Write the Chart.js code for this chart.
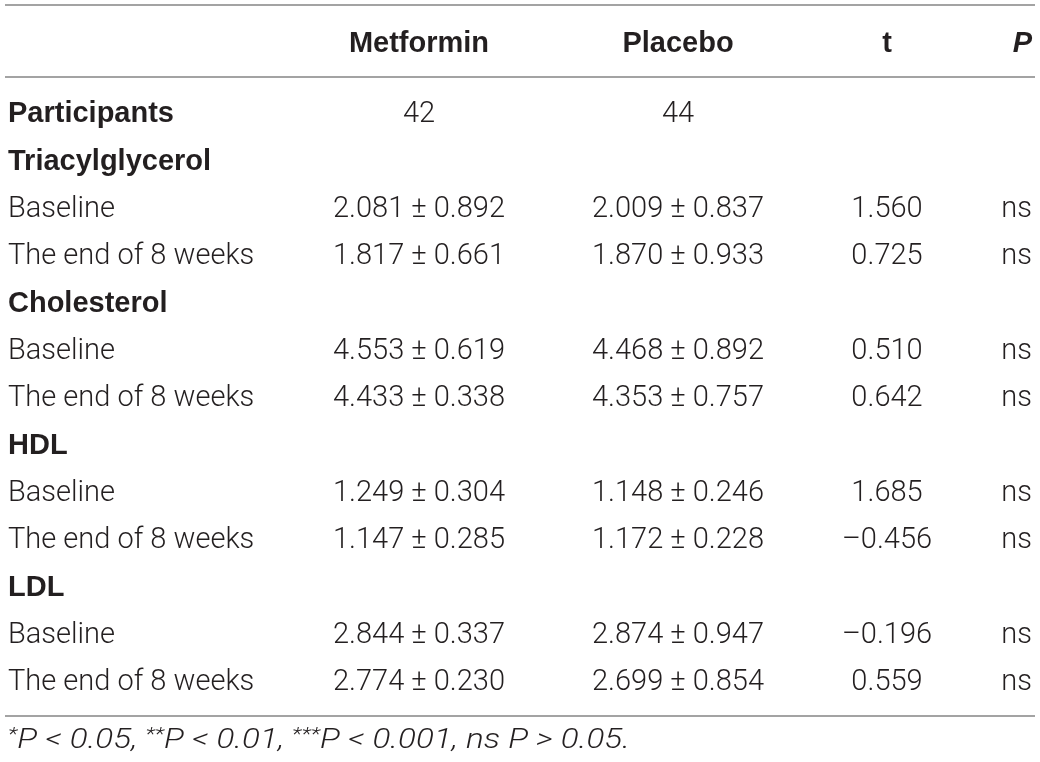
<!DOCTYPE html>
<html><head><meta charset="utf-8">
<script src="https://cdn.jsdelivr.net/npm/chart.js@4.4.1/dist/chart.umd.min.js"></script>
<style>html,body{margin:0;padding:0;background:#fff}#wrap{width:1040px;height:762px;position:relative}</style>
</head><body><div id="wrap"><canvas id="c" width="1040" height="762"></canvas></div>
<script>
// ---------- data ----------
const columns = ['Metformin', 'Placebo', 't', 'P'];
const rowLabels = ['Participants', 'Triacylglycerol', 'Baseline', 'The end of 8 weeks',
  'Cholesterol', 'Baseline', 'The end of 8 weeks', 'HDL', 'Baseline', 'The end of 8 weeks',
  'LDL', 'Baseline', 'The end of 8 weeks'];
const sectionRows = [true, true, false, false, true, false, false, true, false, false, true, false, false];
const metforminMean = [42, null, 2.081, 1.817, null, 4.553, 4.433, null, 1.249, 1.147, null, 2.844, 2.774];
const metforminSD   = [null, null, 0.892, 0.661, null, 0.619, 0.338, null, 0.304, 0.285, null, 0.337, 0.230];
const placeboMean   = [44, null, 2.009, 1.870, null, 4.468, 4.353, null, 1.148, 1.172, null, 2.874, 2.699];
const placeboSD     = [null, null, 0.837, 0.933, null, 0.892, 0.757, null, 0.246, 0.228, null, 0.947, 0.854];
const tValues       = [null, null, 1.560, 0.725, null, 0.510, 0.642, null, 1.685, -0.456, null, -0.196, 0.559];
const pValues       = [null, null, 'ns', 'ns', null, 'ns', 'ns', null, 'ns', 'ns', null, 'ns', 'ns'];
const footnoteParts = [['*', true], ['P < 0.05, ', false], ['**', true], ['P < 0.01, ', false],
  ['***', true], ['P < 0.001, ns P > 0.05.', false]];

// ---------- layout / style ----------
const colAnchors = [8, 419, 678, 887, 1032];   // x anchors (label left, centres, P right)
const colAlign = ['left', 'center', 'center', 'center', 'right'];
const TEXT = '#231f20';
const RULE = '#a3a3a3';
const REG_FONT = '300 29px Roboto, "Liberation Sans", sans-serif';
const BOLD_FONT = 'bold 29px "Liberation Sans", Arial, sans-serif';
const HEAD_P_FONT = 'italic bold 29px "Liberation Sans", Arial, sans-serif';

function fmt(v) {
  if (v === null) return null;
  if (Number.isInteger(v)) return String(v);
  return (v < 0 ? '\u2013' : '') + Math.abs(v).toFixed(3);
}
function pm(m, s) {
  if (m === null) return null;
  return s === null ? fmt(m) : fmt(m) + ' \u00b1 ' + fmt(s);
}

function makeDataset(texts, colIdx, fonts) {
  const data = [], cellText = [], cellFont = [];
  texts.forEach((t, i) => {
    if (t === null || t === undefined) return;
    data.push({ x: colAnchors[colIdx], y: i });
    cellText.push(t);
    cellFont.push(fonts ? fonts[i] : REG_FONT);
  });
  return { data, cellText, cellFont, align: colAlign[colIdx], pointRadius: 0, pointHoverRadius: 0 };
}

const datasets = [
  makeDataset(rowLabels, 0, sectionRows.map(b => b ? BOLD_FONT : REG_FONT)),
  makeDataset(metforminMean.map((m, i) => pm(m, metforminSD[i])), 1),
  makeDataset(placeboMean.map((m, i) => pm(m, placeboSD[i])), 2),
  makeDataset(tValues.map(fmt), 3),
  makeDataset(pValues, 4)
];

const tablePlugin = {
  id: 'tablePlugin',
  afterDatasetsDraw(chart) {
    const ctx = chart.ctx, ca = chart.chartArea, xs = chart.scales.x;
    ctx.save();
    // rules
    ctx.strokeStyle = RULE;
    ctx.lineWidth = 2;
    [ca.top - 83.3, ca.top - 11.3, ca.bottom + 12.3].forEach(y => {
      ctx.beginPath();
      ctx.moveTo(5, y);
      ctx.lineTo(1035, y);
      ctx.stroke();
    });
    ctx.fillStyle = TEXT;
    ctx.textBaseline = 'alphabetic';
    // header
    columns.forEach((c, j) => {
      ctx.font = c === 'P' ? HEAD_P_FONT : BOLD_FONT;
      ctx.textAlign = colAlign[j + 1];
      ctx.fillText(c, xs.getPixelForValue(colAnchors[j + 1]), ca.top - 36);
    });
    // cells
    chart.data.datasets.forEach((ds, di) => {
      const meta = chart.getDatasetMeta(di);
      meta.data.forEach((el, i) => {
        ctx.font = ds.cellFont[i];
        ctx.textAlign = ds.align;
        ctx.fillText(ds.cellText[i], el.x, el.y + 10.3);
      });
    });
    // footnote
    const fy = ca.bottom + 44;
    const baseFont = 'italic 300 28px Roboto, "Liberation Sans", sans-serif';
    const supFont = 'italic 300 19px Roboto, "Liberation Sans", sans-serif';
    let total = 0;
    footnoteParts.forEach(([t, sup]) => { ctx.font = sup ? supFont : baseFont; total += ctx.measureText(t).width; });
    const sx = (630 - 8) / total;
    ctx.textAlign = 'left';
    ctx.translate(8, fy);
    ctx.scale(sx, 1);
    let x = 0;
    footnoteParts.forEach(([t, sup]) => {
      ctx.font = sup ? supFont : baseFont;
      ctx.fillText(t, x, sup ? -8 : 0);
      x += ctx.measureText(t).width;
    });
    ctx.restore();
  }
};

new Chart(document.getElementById('c'), {
  type: 'scatter',
  data: { datasets },
  options: {
    responsive: false,
    animation: false,
    events: [],
    layout: { padding: { top: 88.33, bottom: 58.33, left: 0, right: 0 } },
    plugins: { legend: { display: false }, tooltip: { enabled: false } },
    scales: {
      x: { type: 'linear', min: 0, max: 1040, display: false },
      y: { type: 'linear', min: -0.5, max: 12.5, reverse: true, display: false }
    }
  },
  plugins: [tablePlugin]
});
</script>
</body></html>
